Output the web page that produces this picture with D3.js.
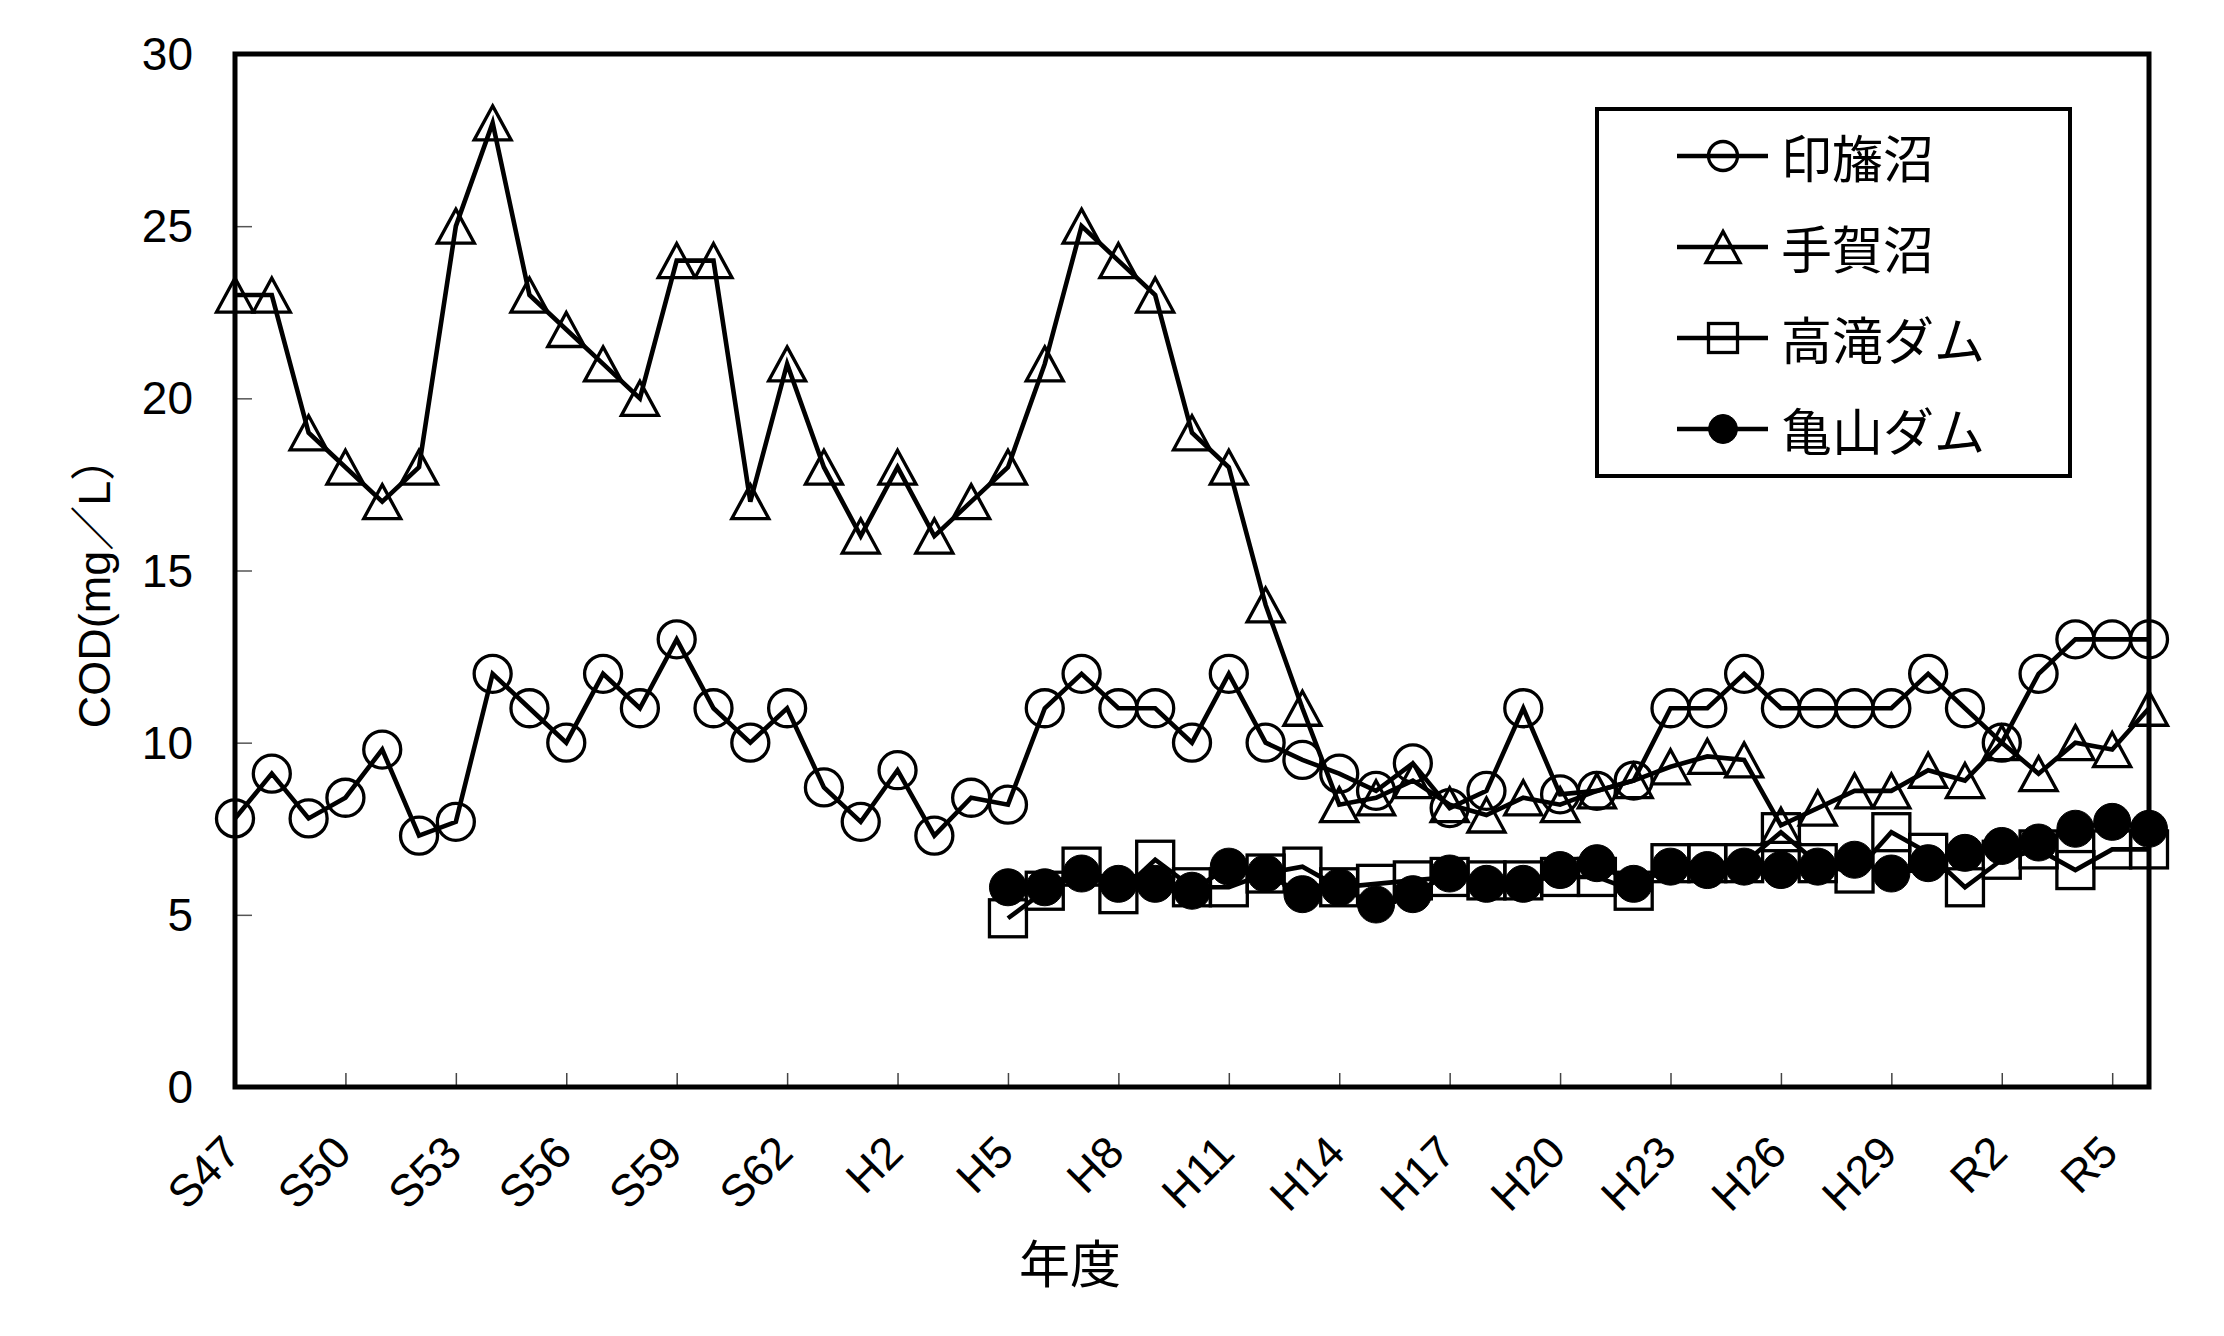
<!doctype html>
<html lang="ja">
<head>
<meta charset="utf-8">
<title>COD 年度推移</title>
<script src="https://d3js.org/d3.v7.min.js"></script>
<style>
  body { margin: 0; background: #fff; }
  svg text { font-family: "Liberation Sans", Arial, "Noto Sans CJK JP", sans-serif; fill: #000; }
  .jp { font-family: "Noto Sans CJK JP", "Liberation Sans", sans-serif; }
</style>
</head>
<body>
<svg id="chart" width="2224" height="1336"></svg>
<script>
// 年度 (S47 = 1972 ... R6 = 2024)
const years = [
  "S47","S48","S49","S50","S51","S52","S53","S54","S55","S56","S57","S58","S59","S60","S61","S62","S63",
  "H1","H2","H3","H4","H5","H6","H7","H8","H9","H10","H11","H12","H13","H14","H15","H16","H17","H18","H19","H20",
  "H21","H22","H23","H24","H25","H26","H27","H28","H29","H30",
  "R1","R2","R3","R4","R5","R6"
];
const tickYears = ["S47","S50","S53","S56","S59","S62","H2","H5","H8","H11","H14","H17","H20","H23","H26","H29","R2","R5"];
const yTicks = [0, 5, 10, 15, 20, 25, 30];

const seriesNames = ["印旛沼", "手賀沼", "高滝ダム", "亀山ダム"];

const inba = [7.8, 9.1, 7.8, 8.4, 9.8, 7.3, 7.7, 12, 11, 10, 12, 11, 13, 11, 10, 11, 8.7,
  7.7, 9.2, 7.3, 8.4, 8.2, 11, 12, 11, 11, 10, 12, 10, 9.5, 9.1, 8.6, 9.4, 8.1, 8.6, 11, 8.5,
  8.6, 8.9, 11, 11, 12, 11, 11, 11, 11, 12,
  11, 10, 12, 13, 13, 13];

const teganuma = [23, 23, 19, 18, 17, 18, 25, 28, 23, 22, 21, 20, 24, 24, 17, 21, 18,
  16, 18, 16, 17, 18, 21, 25, 24, 23, 19, 18, 14, 11, 8.2, 8.4, 8.9, 8.2, 7.9, 8.4, 8.2,
  8.6, 8.9, 9.3, 9.6, 9.5, 7.6, 8.1, 8.6, 8.6, 9.2,
  8.9, 10, 9.1, 10, 9.8, 11];

const takataki = [null, null, null, null, null, null, null, null, null, null, null, null, null, null, null, null, null,
  null, null, null, null, 4.9, 5.7, 6.4, 5.6, 6.6, 5.8, 5.8, 6.2, 6.4, 5.8, 5.9, 6.0, 6.1, 6.0, 6.0, 6.1,
  6.1, 5.7, 6.5, 6.5, 6.5, 7.4, 6.5, 6.2, 7.4, 6.8,
  5.8, 6.6, 6.9, 6.3, 6.9, 6.9];

const kameyama = [null, null, null, null, null, null, null, null, null, null, null, null, null, null, null, null, null,
  null, null, null, null, 5.8, 5.8, 6.2, 5.9, 5.9, 5.7, 6.4, 6.2, 5.6, 5.8, 5.3, 5.6, 6.2, 5.9, 5.9, 6.3,
  6.5, 5.9, 6.4, 6.3, 6.4, 6.3, 6.4, 6.6, 6.2, 6.5,
  6.8, 7.0, 7.1, 7.5, 7.7, 7.5];

const seriesValues = [inba, teganuma, takataki, kameyama];
const markers = ["circle", "triangle", "square", "dot"];

const plotLeft = 235, plotRight = 2149, plotTop = 54, plotBottom = 1087;

const svg = d3.select("#chart");

const x = d3.scalePoint()
  .domain(years)
  .range([plotLeft, plotRight]);

const y = d3.scaleLinear()
  .domain([0, 30])
  .range([plotBottom, plotTop]);

// tick marks (inside the plot)
svg.append("g")
  .attr("transform", `translate(0,${plotBottom})`)
  .call(d3.axisTop(x).tickValues(tickYears).tickSize(14).tickFormat(""))
  .call(g => g.select(".domain").remove())
  .call(g => g.selectAll("line").attr("stroke", "#444").attr("stroke-width", 1.5));

svg.append("g")
  .attr("transform", `translate(${plotLeft},0)`)
  .call(d3.axisRight(y).tickValues(yTicks).tickSize(17).tickFormat(""))
  .call(g => g.select(".domain").remove())
  .call(g => g.selectAll("line").attr("stroke", "#555").attr("stroke-width", 1.5));

// y tick labels
svg.append("g")
  .selectAll("text")
  .data(yTicks)
  .join("text")
  .attr("x", 193)
  .attr("y", d => y(d))
  .attr("text-anchor", "end")
  .attr("dominant-baseline", "central")
  .attr("font-size", 46)
  .text(d => d);

// x tick labels (rotated)
svg.append("g")
  .selectAll("text")
  .data(tickYears)
  .join("text")
  .attr("transform", d => `translate(${x(d) + 8},${plotBottom + 68}) rotate(-45)`)
  .attr("text-anchor", "end")
  .attr("font-size", 45)
  .text(d => d);

// axis titles
svg.append("text")
  .attr("class", "jp")
  .attr("x", 1070)
  .attr("y", 1261)
  .attr("text-anchor", "middle")
  .attr("dominant-baseline", "central")
  .attr("font-size", 51)
  .text("年度");

svg.append("text")
  .attr("transform", "translate(110,582) rotate(-90)")
  .attr("text-anchor", "middle")
  .attr("font-size", 45)
  .text("COD(mg／L）");

// markers
function drawMarker(g, type, size) {
  const s = size / 2;
  if (type === "circle") {
    g.append("circle").attr("r", s).attr("fill", "none").attr("stroke", "#000").attr("stroke-width", 3.3);
  } else if (type === "dot") {
    g.append("circle").attr("r", s).attr("fill", "#000").attr("stroke", "#000").attr("stroke-width", 1);
  } else if (type === "square") {
    g.append("rect").attr("x", -s).attr("y", -s).attr("width", size).attr("height", size)
      .attr("fill", "none").attr("stroke", "#000").attr("stroke-width", 3.3);
  } else if (type === "triangle") {
    g.append("path").attr("d", `M0,${-s * 0.92}L${s},${s * 0.92}L${-s},${s * 0.92}Z`)
      .attr("fill", "none").attr("stroke", "#000").attr("stroke-width", 3.3);
  }
}

const line = d3.line()
  .defined(d => d.v != null)
  .x(d => x(d.year))
  .y(d => y(d.v));

seriesValues.forEach((vals, k) => {
  const pts = years.map((yr, i) => ({ year: yr, v: vals[i] }));
  const g = svg.append("g");
  g.append("path")
    .datum(pts)
    .attr("d", line)
    .attr("fill", "none")
    .attr("stroke", "#000")
    .attr("stroke-width", 4.6)
    .attr("stroke-linejoin", "miter");
  g.selectAll("g.pt")
    .data(pts.filter(d => d.v != null))
    .join("g")
    .attr("class", "pt")
    .attr("transform", d => `translate(${x(d.year)},${y(d.v)})`)
    .each(function () { drawMarker(d3.select(this), markers[k], 37); });
});

// frame
svg.append("rect")
  .attr("x", plotLeft).attr("y", plotTop)
  .attr("width", plotRight - plotLeft).attr("height", plotBottom - plotTop)
  .attr("fill", "none").attr("stroke", "#000").attr("stroke-width", 5);

// legend
const legend = svg.append("g");
legend.append("rect")
  .attr("x", 1597).attr("y", 109)
  .attr("width", 473).attr("height", 367)
  .attr("fill", "#fff").attr("stroke", "#000").attr("stroke-width", 4);

const rowY = d3.scaleLinear().domain([0, 3]).range([156, 429]);
seriesNames.forEach((name, k) => {
  const row = legend.append("g").attr("transform", `translate(0,${rowY(k)})`);
  row.append("line").attr("x1", 1677).attr("x2", 1768).attr("stroke", "#000").attr("stroke-width", 4.6);
  const m = row.append("g").attr("transform", "translate(1723,0)");
  drawMarker(m, markers[k], markers[k] === "triangle" ? 34 : 29);
  row.append("text")
    .attr("class", "jp")
    .attr("x", 1781)
    .attr("dominant-baseline", "central")
    .attr("font-size", 51)
    .text(name);
});
</script>
</body>
</html>
